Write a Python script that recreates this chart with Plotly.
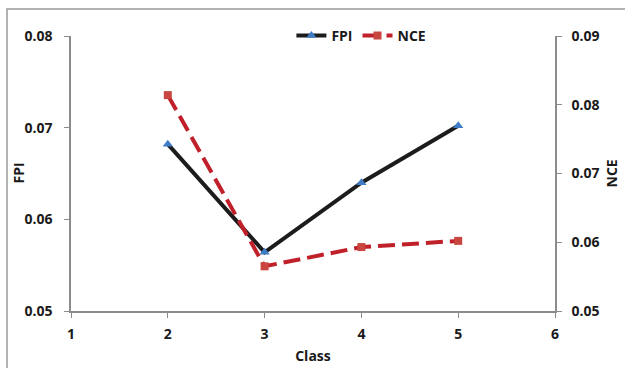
import plotly.graph_objects as go

classes = [2, 3, 4, 5]
fpi = [0.0682, 0.0564, 0.0640, 0.0702]
nce = [0.0814, 0.0565, 0.0593, 0.0602]

font_family = "Open Sans, sans-serif"
axis_color = "#8c8c8c"
text_color = "#1a1a1a"

fig = go.Figure()
fig.add_trace(go.Scatter(
    x=classes, y=fpi, name="FPI", mode="lines+markers",
    line=dict(color="#1c1c1c", width=4),
    marker=dict(symbol="triangle-up", size=9, color="#3f7cc6"),
    yaxis="y",
))
fig.add_trace(go.Scatter(
    x=classes, y=nce, name="NCE", mode="lines+markers",
    line=dict(color="#c0202a", width=4, dash="17px,7px"),
    marker=dict(symbol="square", size=8, color="#c8463f"),
    yaxis="y2",
))

tick_font = dict(family=font_family, size=14, color=text_color, weight="bold")
title_font = dict(family=font_family, size=14, color=text_color, weight="bold")

fig.update_layout(
    width=625, height=368,
    margin=dict(l=71, r=70, t=36, b=57),
    paper_bgcolor="white", plot_bgcolor="white",
    showlegend=True,
    legend=dict(orientation="h", x=0.6, y=1.0, xanchor="center", yanchor="middle",
                font=dict(family=font_family, size=14, color=text_color, weight="bold"),
                bgcolor="rgba(0,0,0,0)", tracegroupgap=0),
    xaxis=dict(range=[1, 6], dtick=1, tick0=1, showgrid=False, zeroline=False,
               showline=True, linecolor=axis_color, linewidth=1.5, automargin=False,
               ticks="outside", ticklen=5, tickcolor=axis_color,
               tickfont=tick_font, ticklabelstandoff=4,
               title=dict(text="Class", font=title_font, standoff=10)),
    yaxis=dict(range=[0.05, 0.08], dtick=0.01, tickformat=".2f", showgrid=False,
               zeroline=False, showline=True, linecolor=axis_color, linewidth=1.5,
               automargin=False,
               ticks="outside", ticklen=5, tickcolor=axis_color,
               tickfont=tick_font, ticklabelstandoff=9),
    yaxis2=dict(range=[0.05, 0.09], dtick=0.01, tickformat=".2f", showgrid=False,
                zeroline=False, showline=True, linecolor=axis_color, linewidth=1.5,
                automargin=False,
                ticks="outside", ticklen=5, tickcolor=axis_color,
                tickfont=tick_font, ticklabelstandoff=7, overlaying="y", side="right"),
    annotations=[
        dict(text="FPI", xref="paper", yref="paper", x=-53 / 484, y=0.5,
             xanchor="center", yanchor="middle", textangle=-90,
             showarrow=False, font=title_font),
        dict(text="NCE", xref="paper", yref="paper", x=1 + 56 / 484, y=0.5,
             xanchor="center", yanchor="middle", textangle=-90,
             showarrow=False, font=title_font),
    ],
)

# outer chart frame
fig.add_shape(type="rect", xref="paper", yref="paper",
              x0=-64 / 484, x1=1.2, y0=-0.3, y1=1 + 27 / 275,
              line=dict(color="#9a9a9a", width=1.5), fillcolor="rgba(0,0,0,0)", layer="below")

fig.write_html("out.html")
